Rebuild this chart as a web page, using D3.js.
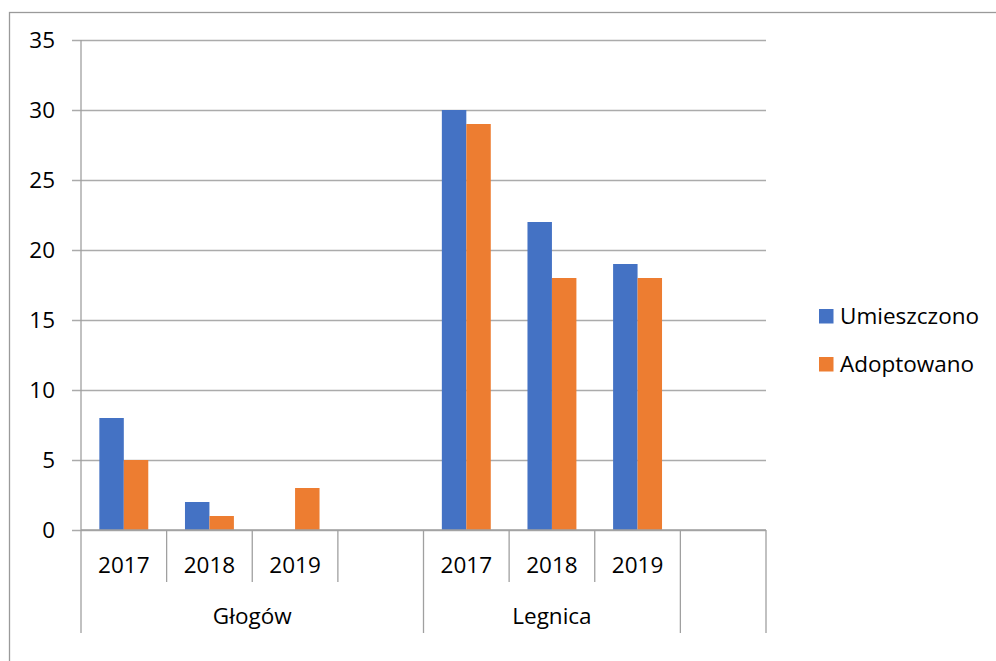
<!DOCTYPE html>
<html>
<head>
<meta charset="utf-8">
<script src="https://cdn.jsdelivr.net/npm/d3@7"></script>
<style>
  body { margin: 0; background: #fff; }
  text { font-family: "Open Sans", "Noto Sans", sans-serif; fill: #000; }
</style>
</head>
<body>
<div id="chart"></div>
<script>
// data
var years = ["2017", "2018", "2019", "", "2017", "2018", "2019", ""];
var towns = ["Głogów", "Głogów", "Głogów", "Głogów", "Legnica", "Legnica", "Legnica", ""];
var umieszczono = [8, 2, null, null, 30, 22, 19, null];
var adoptowano = [5, 1, 3, null, 29, 18, 18, null];
var seriesNames = ["Umieszczono", "Adoptowano"];
var colors = ["#4472C4", "#ED7D31"];
var yTicks = [0, 5, 10, 15, 20, 25, 30, 35];

var W = 996, H = 661;
var plotLeft = 81, plotRight = 766, plotTop = 40, plotBottom = 530;
var fs = "22.5px";

var svg = d3.select("#chart").append("svg").attr("width", W).attr("height", H);

// outer chart border (runs off the right and bottom)
svg.append("rect").attr("x", 9.5).attr("y", 12.5).attr("width", 1000).attr("height", 700)
  .attr("fill", "none").attr("stroke", "#9a9a9a").attr("stroke-width", 1.3);

var idx = d3.range(years.length);
var x0 = d3.scaleBand().domain(idx).range([plotLeft, plotRight]).paddingInner(0).paddingOuter(0);
var x1 = d3.scaleBand().domain(seriesNames).range([0, x0.bandwidth()]).paddingInner(0).paddingOuter(0.75);
var y = d3.scaleLinear().domain([0, 35]).range([plotBottom, plotTop]);

// gridlines + y labels
var yAxis = d3.axisLeft(y).tickValues(yTicks).tickSize(-(plotRight - plotLeft)).tickPadding(26);
var gy = svg.append("g").attr("transform", "translate(" + plotLeft + ",0)").call(yAxis);
gy.select(".domain").remove();
gy.selectAll("line").attr("stroke", "#ababab").attr("stroke-width", 1.3).attr("x1", -9);
gy.selectAll("text").style("font-size", fs).attr("fill", "#000");

// bars
var series = [umieszczono, adoptowano];
series.forEach(function(vals, s) {
  svg.append("g").selectAll("rect")
    .data(idx.filter(function(i) { return vals[i] != null; }))
    .join("rect")
    .attr("x", function(i) { return x0(i) + x1(seriesNames[s]); })
    .attr("width", x1.bandwidth())
    .attr("y", function(i) { return y(vals[i]); })
    .attr("height", function(i) { return y(0) - y(vals[i]); })
    .attr("fill", colors[s]);
});

// category axis
var ax = svg.append("g").attr("stroke", "#a0a0a0").attr("stroke-width", 1.3);
ax.append("line").attr("x1", plotLeft).attr("x2", plotRight).attr("y1", plotBottom).attr("y2", plotBottom);
ax.append("line").attr("x1", plotLeft).attr("x2", plotLeft).attr("y1", plotTop).attr("y2", plotBottom);

// boundaries: long where the town changes
d3.range(years.length + 1).forEach(function(b) {
  var xx = b < years.length ? x0(b) : plotRight;
  var isGroup = b === 0 || b === years.length || towns[b] !== towns[b - 1];
  ax.append("line").attr("x1", xx).attr("x2", xx).attr("y1", plotBottom)
    .attr("y2", isGroup ? 633 : 582);
});

svg.append("g").selectAll("text").data(idx).join("text")
  .attr("x", function(i) { return x0(i) + x0.bandwidth() / 2; })
  .attr("y", 573)
  .attr("text-anchor", "middle")
  .style("font-size", fs)
  .text(function(i) { return years[i]; });

var groups = d3.groups(idx, function(i) { return towns[i]; });
svg.append("g").selectAll("text").data(groups).join("text")
  .attr("x", function(g) { var a = g[1]; return (x0(a[0]) + x0(a[a.length - 1]) + x0.bandwidth()) / 2; })
  .attr("y", 624)
  .attr("text-anchor", "middle")
  .style("font-size", fs)
  .text(function(g) { return g[0]; });

// legend
var lg = svg.append("g").selectAll("g").data(seriesNames).join("g")
  .attr("transform", function(d, i) { return "translate(819," + (309 + i * 48) + ")"; });
lg.append("rect").attr("width", 14.5).attr("height", 14.5).attr("fill", function(d, i) { return colors[i]; });
lg.append("text").attr("x", 21).attr("y", 14.5).style("font-size", fs).text(function(d) { return d; });
</script>
</body>
</html>
